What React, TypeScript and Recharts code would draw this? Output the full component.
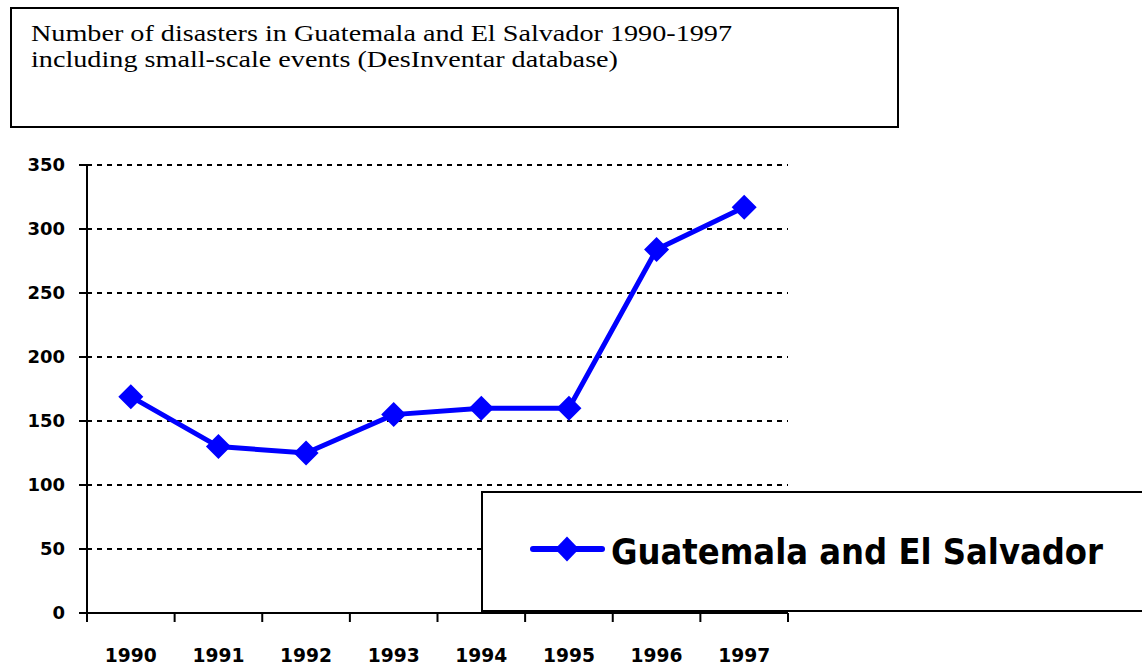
import React from 'react';
import {
  LineChart,
  Line,
  XAxis,
  YAxis,
  CartesianGrid,
  Legend,
} from 'recharts';

const years = ['1990', '1991', '1992', '1993', '1994', '1995', '1996', '1997'];
const disasters = [169, 130, 125, 155, 160, 160, 284, 317];
const yTicks = [0, 50, 100, 150, 200, 250, 300, 350];
const seriesName = 'Guatemala and El Salvador';
const titleLines = [
  'Number of disasters in Guatemala and El Salvador 1990-1997',
  'including small-scale events (DesInventar database)',
];

const data = years.map((year, i) => ({ year, disasters: disasters[i] }));

const W = 1142;
const H = 667;
const M = { top: 165, right: 354, bottom: 0, left: 0 };
const Y_AXIS_W = 87;
const BAND = (W - M.left - M.right - Y_AXIS_W) / years.length;
const AXIS_FONT = 'DejaVu Sans, Verdana, sans-serif';

const Diamond = (props: any) => {
  const { cx, cy } = props;
  if (cx == null || cy == null) return null;
  const r = 12.5;
  return (
    <path
      d={`M${cx},${cy - r} L${cx + r},${cy} L${cx},${cy + r} L${cx - r},${cy} Z`}
      fill="#0000FF"
    />
  );
};

// ticks sit between the categories, like the old Excel chart
const YearTick = (props: any) => {
  const { x, y, payload, index } = props;
  const last = index === years.length - 1;
  return (
    <g>
      <line x1={x - BAND / 2} y1={y} x2={x - BAND / 2} y2={y + 9} stroke="#000" strokeWidth={2} />
      {last && (
        <line x1={x + BAND / 2} y1={y} x2={x + BAND / 2} y2={y + 9} stroke="#000" strokeWidth={2} />
      )}
      <text
        x={x - 26}
        y={y + 49}
        fontFamily={AXIS_FONT}
        fontWeight="bold"
        fontSize={20}
        textLength={52}
        lengthAdjust="spacingAndGlyphs"
        fill="#000"
      >
        {payload.value}
      </text>
    </g>
  );
};

const LegendBox = (props: any) => {
  const item = props.payload && props.payload[0];
  const color = item ? item.color : '#0000FF';
  return (
    <div style={{ position: 'relative', width: '100%', height: '100%' }}>
      <svg
        width={661}
        height={120}
        style={{ position: 'absolute', left: -2, top: -2, overflow: 'visible' }}
      >
        <line x1={52} y1={58} x2={121} y2={58} stroke={color} strokeWidth={6} strokeLinecap="round" />
        <path d="M86,45.5 L98,58 L86,70.5 L74,58 Z" fill={color} />
        <text
          x={130}
          y={73}
          fontFamily="'Liberation Sans Narrow', 'DejaVu Sans Condensed', 'Liberation Sans', sans-serif"
          fontWeight="bold"
          fontSize={35}
          textLength={492}
          lengthAdjust="spacingAndGlyphs"
          fill="#000"
        >
          {item ? item.value : seriesName}
        </text>
      </svg>
    </div>
  );
};

export default function App() {
  return (
    <div style={{ position: 'absolute', left: 0, top: 0, width: W, height: H, background: '#fff', overflow: 'hidden' }}>
      <svg
        width={889}
        height={121}
        style={{ position: 'absolute', left: 10, top: 7 }}
      >
        <rect x={1} y={1} width={887} height={119} fill="#fff" stroke="#000" strokeWidth={2} />
        <text
          fontFamily="'Liberation Serif', 'Times New Roman', serif"
          fontSize={23}
          fill="#000"
        >
          <tspan x={21} y={34} textLength={701} lengthAdjust="spacingAndGlyphs">
            {titleLines[0]}
          </tspan>
          <tspan x={21} y={60} textLength={587} lengthAdjust="spacingAndGlyphs">
            {titleLines[1]}
          </tspan>
        </text>
      </svg>
      <LineChart width={W} height={H} data={data} margin={M}>
        <CartesianGrid
          vertical={false}
          stroke="#000"
          strokeWidth={2}
          strokeDasharray="5 5"
        />
        <XAxis
          dataKey="year"
          height={54}
          padding={{ left: BAND / 2, right: BAND / 2 }}
          axisLine={{ stroke: '#000', strokeWidth: 2 }}
          tickLine={false}
          tickSize={0}
          tickMargin={0}
          interval={0}
          tick={<YearTick />}
        />
        <YAxis
          width={Y_AXIS_W}
          domain={[0, 350]}
          ticks={yTicks}
          interval={0}
          axisLine={{ stroke: '#000', strokeWidth: 2 }}
          tickLine={{ stroke: '#000', strokeWidth: 2 }}
          tickSize={8}
          tickMargin={14}
          tick={{ fill: '#000', fontFamily: AXIS_FONT, fontWeight: 'bold', fontSize: 18 }}
        />
        <Legend
          layout="horizontal"
          align="center"
          verticalAlign="middle"
          content={<LegendBox />}
          wrapperStyle={{
            position: 'absolute',
            left: 481,
            top: 491,
            width: 661,
            height: 121,
            boxSizing: 'border-box',
            border: '2px solid #000',
            borderRight: 'none',
            background: '#fff',
          }}
        />
        <Line
          name={seriesName}
          type="linear"
          dataKey="disasters"
          stroke="#0000FF"
          strokeWidth={5}
          dot={<Diamond />}
          activeDot={false}
          isAnimationActive={false}
        />
      </LineChart>
    </div>
  );
}
